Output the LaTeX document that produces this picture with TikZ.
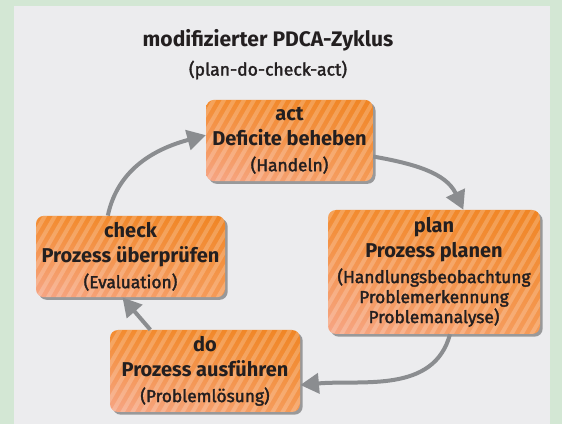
\documentclass[tikz,border=0pt]{standalone}
\usepackage{fontspec}
\setmainfont{Fira Sans}
\newfontfamily\medfont{Fira Sans}[FakeBold=2]
\usetikzlibrary{arrows.meta,shadows,calc,shadings}
\definecolor{bggreen}{HTML}{D3E7D4}
\definecolor{panel}{HTML}{ECECEE}
\definecolor{orUL}{HTML}{F38C30}
\definecolor{orUR}{HTML}{F08524}
\definecolor{orLL}{HTML}{F6A585}
\definecolor{orLR}{HTML}{F59A55}
\definecolor{arrowgray}{HTML}{8B8D90}
\definecolor{txt}{HTML}{231F20}
\tikzset{
  phase/.style={rounded corners=6pt, inner sep=0pt, align=center, text=txt,
    upper left=orUL, upper right=orUR, lower left=orLL, lower right=orLR,
    drop shadow={shadow xshift=2pt, shadow yshift=-2pt, fill=black, opacity=0.35},
    path picture={
      \foreach \k in {-40,...,30} {
        \draw[white, opacity=0.2, line width=3pt]
          ($(path picture bounding box.south)+(\k*7.5pt,-4cm)$) -- ++(60:11cm);
      }
    }},
  cyc/.style={draw=arrowgray, line width=3pt, -{Triangle[length=14pt,width=15pt]}},
  big/.style={font=\fontsize{15}{19}\selectfont\bfseries},
}
\newcommand{\sm}[1]{{\medfont\mdseries\fontsize{13}{15}\selectfont #1}}
\begin{document}
\begin{tikzpicture}[x=0.75pt, y=-0.75pt]
  \useasboundingbox (0,0) rectangle (562,424);
  \fill[bggreen] (0,0) rectangle (562,424);
  \fill[panel] (14,6) rectangle (550,424);

  \node[text=txt, align=center] (title) at (268,40)
    {\fontsize{15.8}{20}\selectfont\bfseries modifizierter PDCA-Zyklus};
  \node[text=txt, align=center] (subtitle) at (268,70)
    {\medfont\mdseries\fontsize{13.2}{16}\selectfont (plan-do-check-act)};

  \node[phase, big, minimum width=125pt, minimum height=61pt] (act) at (289.5,140.5)
    {act\\Deficite beheben\\\sm{(Handeln)}};
  \node[phase, big, minimum width=159pt, minimum height=93pt] (plan) at (434,272)
    {plan\\Prozess planen\\\sm{(Handlungsbeobachtung}\\[-4pt]\sm{Problemerkennung}\\[-4pt]\sm{Problemanalyse)}};
  \node[phase, big, minimum width=141.75pt, minimum height=61pt] (check) at (130.5,256.5)
    {check\\Prozess überprüfen\\\sm{(Evaluation)}};
  \node[phase, big, minimum width=142.5pt, minimum height=61.5pt] (do) at (205,371)
    {do\\Prozess ausführen\\\sm{(Problemlösung)}};

  \draw[cyc] ([xshift=-17pt]check.north) to[out=78, in=195] ([yshift=4pt]act.west);
  \draw[cyc] ([yshift=-12pt]act.east) to[out=-10, in=115] ([xshift=22pt]plan.north);
  \draw[cyc] ([xshift=12pt]plan.south) to[out=-105, in=5] ([yshift=-10.5pt]do.east);
  \draw[cyc] ([xshift=-41pt]do.north) -- ([xshift=-6pt]check.south);
\end{tikzpicture}
\end{document}
